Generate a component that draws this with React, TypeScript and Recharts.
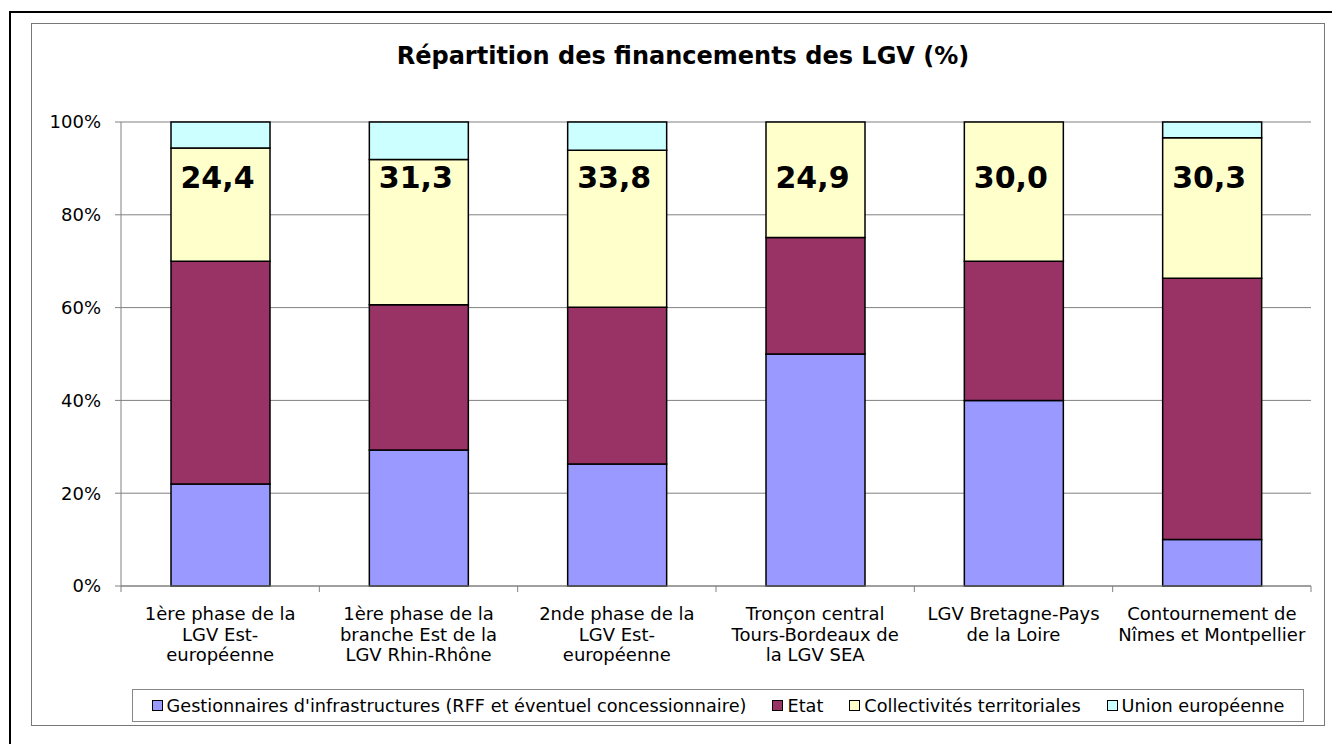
import React from 'react';
import { BarChart, Bar, XAxis, YAxis, CartesianGrid, LabelList } from 'recharts';

// Categories (projets LGV)
const CATEGORIES = [
  '1ère phase de la LGV Est-européenne',
  '1ère phase de la branche Est de la LGV Rhin-Rhône',
  '2nde phase de la LGV Est-européenne',
  'Tronçon central Tours-Bordeaux de la LGV SEA',
  'LGV Bretagne-Pays de la Loire',
  'Contournement de Nîmes et Montpellier',
];

// tick labels, split the way the original wraps them
const CATEGORY_LINES = [
  ['1ère phase de la', 'LGV Est-', 'européenne'],
  ['1ère phase de la', 'branche Est de la', 'LGV Rhin-Rhône'],
  ['2nde phase de la', 'LGV Est-', 'européenne'],
  ['Tronçon central', 'Tours-Bordeaux de', 'la LGV SEA'],
  ['LGV Bretagne-Pays', 'de la Loire'],
  ['Contournement de', 'Nîmes et Montpellier'],
];

// series values (%)
const GESTIONNAIRES = [22.0, 29.3, 26.3, 50.0, 40.0, 10.0];
const ETAT = [48.0, 31.3, 33.8, 25.1, 30.0, 56.3];
const COLLECTIVITES = [24.4, 31.3, 33.8, 24.9, 30.0, 30.3];
const UNION_EUROPEENNE = [5.6, 8.1, 6.1, 0, 0, 3.4];

const Y_TICKS = [0, 20, 40, 60, 80, 100];

const SERIES = [
  { key: 'gestionnaires', name: "Gestionnaires d'infrastructures (RFF et éventuel concessionnaire)", color: '#9999FF', values: GESTIONNAIRES },
  { key: 'etat', name: 'Etat', color: '#993366', values: ETAT },
  { key: 'collectivites', name: 'Collectivités territoriales', color: '#FFFFCC', values: COLLECTIVITES },
  { key: 'ue', name: 'Union européenne', color: '#CCFFFF', values: UNION_EUROPEENNE },
];

const data = CATEGORIES.map((name, i) => {
  const row: Record<string, any> = { name };
  SERIES.forEach((s) => { row[s.key] = s.values[i]; });
  return row;
});

const FONT = '"DejaVu Sans", "Liberation Sans", Arial, sans-serif';
const AXIS_GRAY = '#808080';

const CHART_W = 1332;
const CHART_H = 744;
const MARGIN = { top: 122, right: 21, bottom: 68, left: 0 };
const Y_AXIS_W = 121;
const X_AXIS_H = 90;

const fmt = (v: number) => v.toFixed(1).replace('.', ',');

const CategoryTick = (props: any) => {
  const { x, y, payload } = props;
  const idx = payload?.index ?? props.index ?? 0;
  const plotW = CHART_W - MARGIN.left - MARGIN.right - Y_AXIS_W;
  const half = payload?.offset || plotW / CATEGORIES.length / 2;
  const lines = CATEGORY_LINES[idx] || [String(payload?.value)];
  return (
    <g>
      <line x1={x - half} x2={x - half} y1={y - 6} y2={y} stroke={AXIS_GRAY} />
      {idx === CATEGORIES.length - 1 && (
        <line x1={x + half} x2={x + half} y1={y - 6} y2={y} stroke={AXIS_GRAY} />
      )}
      {lines.map((line, i) => (
        <text key={i} x={x} y={y + 28 + i * 20.5} textAnchor="middle" fontFamily={FONT} fontSize={18} fill="#000">
          {line}
        </text>
      ))}
    </g>
  );
};

const ValueLabel = (props: any) => {
  const vb = props.viewBox || props;
  const { value } = props;
  if (value == null) return null;
  return (
    <text x={vb.x + vb.width / 2 - 3} y={MARGIN.top + 66} textAnchor="middle" fontFamily={FONT} fontWeight="bold" fontSize={30} fill="#000">
      {fmt(Number(value))}
    </text>
  );
};

export default function App() {
  return (
    <div style={{ position: 'absolute', left: 0, top: 0, width: CHART_W, height: CHART_H, overflow: 'hidden', background: '#fff' }}>
      {/* outer frame */}
      <div style={{ position: 'absolute', left: 9, top: 11, width: 1340, height: 760, border: '2.5px solid #000', boxSizing: 'border-box' }} />
      {/* chart area frame */}
      <div style={{ position: 'absolute', left: 31, top: 23, width: 1294, height: 703, border: '1px solid #777', boxSizing: 'border-box' }} />

      <div style={{ position: 'absolute', left: 0, top: 0 }}>
        <BarChart width={CHART_W} height={CHART_H} data={data} margin={MARGIN} barSize={99}>
          <CartesianGrid vertical={false} stroke={AXIS_GRAY} />
          <XAxis
            dataKey="name"
            height={X_AXIS_H}
            interval={0}
            tickLine={false}
            tickSize={6}
            tickMargin={0}
            axisLine={{ stroke: AXIS_GRAY }}
            tick={<CategoryTick />}
          />
          <YAxis
            width={Y_AXIS_W}
            domain={[0, 100]}
            ticks={Y_TICKS}
            interval={0}
            tickFormatter={(v: number) => `${v}%`}
            tick={{ fill: '#000', fontSize: 18, fontFamily: FONT }}
            tickLine={{ stroke: AXIS_GRAY }}
            tickSize={6}
            tickMargin={14}
            axisLine={{ stroke: AXIS_GRAY }}
          />
          {SERIES.map((s) => (
            <Bar key={s.key} dataKey={s.key} name={s.name} stackId="a" fill={s.color} stroke="#000" strokeWidth={1.5} isAnimationActive={false}>
              {s.key === 'collectivites' && <LabelList dataKey={s.key} content={<ValueLabel />} />}
            </Bar>
          ))}
        </BarChart>
      </div>

      {/* title */}
      <div style={{ position: 'absolute', left: 333, top: 44, width: 700, textAlign: 'center', fontFamily: FONT, fontWeight: 'bold', fontSize: 24, lineHeight: '24px', color: '#000' }}>
        Répartition des financements des LGV (%)
      </div>

      {/* legend */}
      <div style={{ position: 'absolute', left: 132, top: 689, width: 1172, height: 33, border: '1.5px solid #888', boxSizing: 'border-box', display: 'flex', alignItems: 'center', justifyContent: 'center', gap: 26, fontFamily: FONT, fontSize: 17.7, color: '#000', background: '#fff' }}>
        {SERIES.map((s) => (
          <div key={s.key} style={{ display: 'flex', alignItems: 'center', whiteSpace: 'nowrap' }}>
            <span style={{ display: 'inline-block', width: 9, height: 9, border: '1px solid #000', background: s.color, marginRight: 4 }} />
            <span>{s.name}</span>
          </div>
        ))}
      </div>
    </div>
  );
}
